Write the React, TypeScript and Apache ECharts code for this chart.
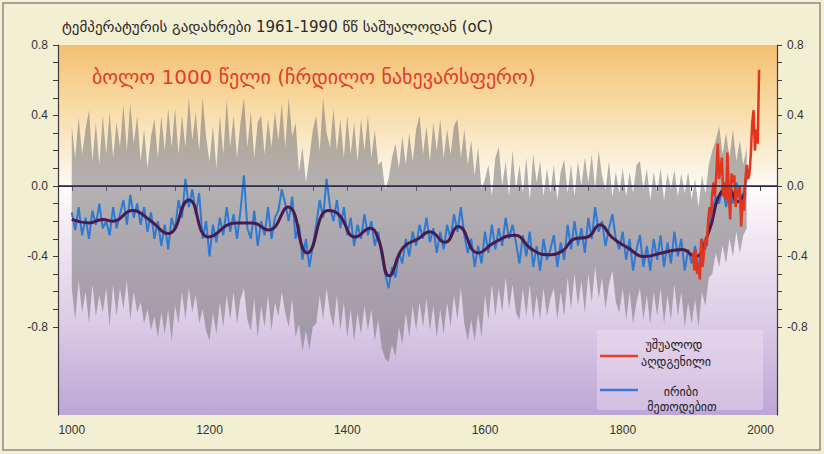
import React, { useEffect, useRef } from "react";
import * as echarts from "echarts";

// Texts
const TITLE = "ტემპერატურის გადახრები 1961-1990 წწ საშუალოდან (oC)";
const SUBTITLE = "ბოლო 1000 წელი (ჩრდილო ნახევარსფერო)";
const LEGEND_DIRECT = ["უშუალოდ", "აღდგენილი"];
const LEGEND_PROXY = ["ირიბი", "მეთოდებით"];

// Axis ticks and labels
const X_LABELS = [1000, 1200, 1400, 1600, 1800, 2000];
const X_TICKS = [
  1000, 1050, 1100, 1150, 1200, 1250, 1300, 1350, 1400, 1450, 1500,
  1550, 1600, 1650, 1700, 1750, 1800, 1850, 1900, 1950, 2000,
];
const Y_LABELS = [-0.8, -0.4, 0, 0.4, 0.8];
const Y_TICKS = [
  -0.8, -0.7, -0.6, -0.5, -0.4, -0.3, -0.2, -0.1, 0,
  0.1, 0.2, 0.3, 0.4, 0.5, 0.6, 0.7, 0.8,
];

// Proxy reconstruction, sampled every 5 years from 1000
const PROXY_START = 1000;
const PROXY_STEP = 5;
const proxyValues = [
  -0.15, -0.25, -0.12, -0.28, -0.18, -0.30, -0.14, -0.22, -0.10, -0.24,
  -0.20, -0.28, -0.12, -0.24, -0.16, -0.08, -0.22, -0.05, -0.18, -0.10,
  -0.22, -0.12, -0.26, -0.15, -0.30, -0.20, -0.34, -0.22, -0.36, -0.18,
  -0.25, -0.08, -0.18, 0.04, -0.12, -0.02, -0.16, -0.04, -0.30, -0.20,
  -0.40, -0.22, -0.32, -0.18, -0.28, -0.12, -0.26, -0.16, -0.30, -0.14,
  0.06, -0.24, -0.30, -0.14, -0.34, -0.20, -0.28, -0.12, -0.30, -0.18,
  -0.14, -0.02, -0.10, -0.20, -0.06, -0.30, -0.22, -0.42, -0.30, -0.46,
  -0.34, -0.22, -0.08, -0.18, 0.04, -0.12, -0.20, -0.08, -0.24, -0.12,
  -0.28, -0.18, -0.34, -0.22, -0.30, -0.16, -0.28, -0.20, -0.34, -0.26,
  -0.40, -0.50, -0.58, -0.46, -0.52, -0.38, -0.44, -0.30, -0.40, -0.26,
  -0.34, -0.22, -0.30, -0.18, -0.32, -0.24, -0.38, -0.26, -0.36, -0.22,
  -0.30, -0.16, -0.26, -0.12, -0.28, -0.38, -0.30, -0.46, -0.34, -0.44,
  -0.26, -0.38, -0.22, -0.36, -0.24, -0.34, -0.18, -0.30, -0.22, -0.32,
  -0.44, -0.28, -0.40, -0.26, -0.46, -0.34, -0.48, -0.30, -0.42, -0.36,
  -0.28, -0.46, -0.32, -0.42, -0.22, -0.36, -0.20, -0.34, -0.24, -0.38,
  -0.18, -0.30, -0.12, -0.26, -0.20, -0.34, -0.24, -0.16, -0.30, -0.36,
  -0.26, -0.42, -0.30, -0.48, -0.36, -0.28, -0.46, -0.34, -0.48, -0.30,
  -0.42, -0.28, -0.46, -0.32, -0.44, -0.26, -0.40, -0.30, -0.48, -0.36,
  -0.44, -0.34, -0.48, -0.30, -0.36, -0.22, -0.14, -0.06, -0.10, 0.00,
  -0.12, -0.02, -0.10, 0.02, -0.08, -0.04, 0.04,
];

// Uncertainty range of the reconstruction (same sampling)
const bandUpper = [
  0.34, 0.16, 0.39, 0.18, 0.32, 0.43, 0.14, 0.36, 0.12, 0.40,
  0.18, 0.42, 0.16, 0.36, 0.22, 0.46, 0.20, 0.47, 0.24, 0.40,
  0.14, 0.32, 0.10, 0.28, 0.38, 0.16, 0.40, 0.20, 0.44, 0.22,
  0.44, 0.18, 0.40, 0.22, 0.50, 0.26, 0.42, 0.20, 0.50, 0.28,
  0.14, 0.34, 0.10, 0.40, 0.18, 0.49, 0.22, 0.40, 0.16, 0.36,
  0.50, 0.22, 0.42, 0.16, 0.36, 0.40, 0.18, 0.38, 0.22, 0.42,
  0.26, 0.47, 0.22, 0.50, 0.28, 0.36, 0.08, 0.22, 0.02, 0.16,
  0.32, 0.40, 0.20, 0.50, 0.30, 0.22, 0.44, 0.20, 0.38, 0.16,
  0.40, 0.18, 0.36, 0.14, 0.38, 0.20, 0.40, 0.16, 0.32, 0.12,
  0.14, -0.02, 0.04, 0.16, 0.24, 0.10, 0.28, 0.12, 0.30, 0.14,
  0.32, 0.40, 0.18, 0.34, 0.14, 0.36, 0.20, 0.38, 0.16, 0.32,
  0.18, 0.34, 0.38, 0.16, 0.32, 0.12, 0.26, 0.06, 0.22, -0.02,
  0.04, 0.12, -0.06, 0.16, 0.22, 0.00, 0.14, -0.06, 0.20, -0.02,
  0.12, -0.04, 0.16, -0.08, 0.18, 0.02, 0.14, -0.06, 0.10, -0.04,
  0.12, -0.08, 0.08, 0.15, -0.04, 0.12, -0.06, 0.14, 0.00, 0.16,
  0.02, 0.18, -0.02, 0.20, 0.06, -0.02, 0.14, -0.06, 0.08, -0.04,
  0.10, -0.06, 0.08, -0.04, 0.12, 0.14, -0.02, 0.10, -0.08, 0.08,
  -0.04, 0.10, -0.08, 0.07, -0.02, 0.09, -0.06, 0.07, -0.04, 0.08,
  -0.08, 0.04, -0.12, 0.06, -0.04, 0.12, 0.20, 0.26, 0.34, 0.18,
  0.30, 0.16, 0.32, 0.14, 0.26, 0.12, 0.22,
];
const bandLower = [
  -0.58, -0.76, -0.54, -0.72, -0.60, -0.78, -0.56, -0.74, -0.62, -0.72,
  -0.58, -0.80, -0.56, -0.74, -0.58, -0.70, -0.54, -0.76, -0.60, -0.72,
  -0.66, -0.78, -0.70, -0.82, -0.74, -0.86, -0.72, -0.84, -0.70, -0.88,
  -0.68, -0.78, -0.60, -0.76, -0.58, -0.72, -0.62, -0.78, -0.70, -0.82,
  -0.88, -0.72, -0.84, -0.66, -0.80, -0.62, -0.76, -0.60, -0.78, -0.64,
  -0.58, -0.76, -0.82, -0.64, -0.86, -0.68, -0.80, -0.62, -0.82, -0.66,
  -0.74, -0.60, -0.72, -0.80, -0.64, -0.86, -0.78, -0.94, -0.82, -0.93,
  -0.80, -0.78, -0.62, -0.76, -0.58, -0.72, -0.80, -0.62, -0.82, -0.66,
  -0.86, -0.70, -0.88, -0.72, -0.84, -0.68, -0.82, -0.70, -0.88, -0.76,
  -0.92, -0.98, -1.00, -0.90, -0.97, -0.80, -0.90, -0.72, -0.86, -0.68,
  -0.82, -0.66, -0.80, -0.64, -0.82, -0.68, -0.86, -0.70, -0.84, -0.66,
  -0.80, -0.62, -0.76, -0.58, -0.78, -0.88, -0.76, -0.88, -0.72, -0.86,
  -0.62, -0.76, -0.56, -0.74, -0.58, -0.72, -0.52, -0.70, -0.56, -0.72,
  -0.76, -0.58, -0.74, -0.56, -0.76, -0.62, -0.76, -0.58, -0.74, -0.64,
  -0.58, -0.76, -0.60, -0.74, -0.52, -0.70, -0.50, -0.68, -0.54, -0.72,
  -0.50, -0.66, -0.46, -0.64, -0.52, -0.70, -0.56, -0.48, -0.66, -0.72,
  -0.58, -0.76, -0.60, -0.78, -0.66, -0.58, -0.76, -0.62, -0.78, -0.60,
  -0.74, -0.58, -0.78, -0.62, -0.76, -0.56, -0.74, -0.60, -0.80, -0.66,
  -0.78, -0.64, -0.80, -0.60, -0.68, -0.52, -0.50, -0.38, -0.46, -0.34,
  -0.44, -0.30, -0.40, -0.26, -0.38, -0.28, -0.24,
];

// Smoothed curve (anchor years and values)
const smoothYears = [
  1000, 1025, 1045, 1060, 1088, 1112, 1140, 1170, 1199, 1238, 1262, 1286,
  1314, 1342, 1372, 1387, 1412, 1433, 1445, 1461, 1481, 1503, 1520, 1542,
  1561, 1590, 1614, 1643, 1668, 1691, 1712, 1730, 1749, 1767, 1784, 1807,
  1832, 1857, 1886, 1905, 1925, 1942, 1955, 1966, 1978,
];
const smoothValues = [
  -0.19, -0.21, -0.19, -0.20, -0.14, -0.19, -0.27, -0.08, -0.29, -0.21, -0.21, -0.25,
  -0.12, -0.38, -0.14, -0.16, -0.29, -0.24, -0.30, -0.51, -0.35, -0.30, -0.26, -0.32,
  -0.23, -0.38, -0.32, -0.28, -0.36, -0.39, -0.37, -0.30, -0.29, -0.22, -0.29, -0.35,
  -0.40, -0.38, -0.36, -0.40, -0.26, -0.04, -0.02, -0.09, -0.04,
];

// Thermometer record, every 2 years from 1902
const INSTR_START = 1902;
const INSTR_STEP = 2;
const instrumentalValues = [
  -0.38, -0.48, -0.36, -0.50, -0.44, -0.53, -0.30, -0.46, -0.38, -0.30,
  -0.34, -0.20, -0.12, -0.18, -0.04, 0.02, -0.06, 0.08, 0.24, 0.04,
  0.10, 0.16, -0.06, 0.02, -0.08, 0.19, -0.04, -0.19, 0.07, 0.02,
  0.06, -0.12, -0.02, -0.06, 0.00, -0.23, -0.08, -0.14, 0.03, 0.12,
  0.04, 0.07, 0.18, 0.36, 0.43, 0.20, 0.32, 0.24, 0.66,
];

const FONT_AXIS = "'Liberation Sans Narrow', 'Liberation Sans', Arial, sans-serif";
const FONT_GEO = "'DejaVu Sans', sans-serif";

export default function App() {
  const ref = useRef<HTMLDivElement>(null);

  useEffect(() => {
    if (!ref.current) return;
    const chart = echarts.init(ref.current, undefined, { renderer: "svg" });

    const proxy = proxyValues.map((v, i) => [PROXY_START + i * PROXY_STEP, v]);
    const instrumental = instrumentalValues.map((v, i) => [INSTR_START + i * INSTR_STEP, v]);
    const smooth = smoothValues.map((v, i) => [smoothYears[i], v]);
    const bandYears = bandUpper.map((_, i) => PROXY_START + i * PROXY_STEP);

    const yAxisBase = {
      type: "value",
      min: -1.3,
      max: 0.8,
      splitLine: { show: false },
      axisLine: { show: true, lineStyle: { color: "#3d3a40", width: 1.2 } },
      axisTick: {
        show: true,
        length: 5,
        customValues: Y_TICKS,
        lineStyle: { color: "#3d3a40" },
      },
      axisLabel: {
        customValues: Y_LABELS,
        formatter: (v: number) => v.toFixed(1),
        color: "#333",
        fontSize: 12,
        fontFamily: FONT_AXIS,
        margin: 10,
      },
    };

    chart.setOption({
      animation: false,
      backgroundColor: "#f3efd2",
      grid: {
        left: 58,
        right: 47,
        top: 45,
        bottom: 39,
        show: true,
        borderWidth: 0,
        backgroundColor: new echarts.graphic.LinearGradient(0, 0, 0, 1, [
          { offset: 0, color: "#f5c073" },
          { offset: 0.14, color: "#f8d79c" },
          { offset: 0.3, color: "#fbeed6" },
          { offset: 0.39, color: "#fdfbf8" },
          { offset: 0.5, color: "#f3eaf3" },
          { offset: 0.75, color: "#dccbe6" },
          { offset: 1, color: "#bda6d6" },
        ]),
      },
      xAxis: {
        type: "value",
        min: 980,
        max: 2024,
        splitLine: { show: false },
        axisLine: { show: true, lineStyle: { color: "#3d3a40", width: 1.2 } },
        axisTick: {
          show: true,
          length: 5,
          customValues: X_TICKS,
          lineStyle: { color: "#3d3a40" },
        },
        axisLabel: {
          customValues: X_LABELS,
          formatter: (v: number) => String(v),
          color: "#333",
          fontSize: 12,
          fontFamily: FONT_AXIS,
          margin: 9,
        },
      },
      yAxis: [
        { ...yAxisBase, position: "left" },
        { ...yAxisBase, position: "right" },
      ],
      series: [
        {
          type: "custom",
          name: "band",
          silent: true,
          clip: true,
          data: [[1000, 0]],
          encode: { x: 0, y: 1 },
          renderItem: (_params: any, api: any) => {
            const top = bandYears.map((yr, i) => api.coord([yr, bandUpper[i]]));
            const bottom = bandYears
              .map((yr, i) => api.coord([yr, bandLower[i]]))
              .reverse();
            return {
              type: "polygon",
              shape: { points: top.concat(bottom) },
              style: { fill: "rgba(118,116,120,0.55)" },
            };
          },
          z: 1,
        },
        {
          type: "line",
          name: "proxy",
          data: proxy,
          showSymbol: false,
          silent: true,
          lineStyle: { color: "#2e7ad2", width: 2 },
          z: 2,
          markLine: {
            silent: true,
            symbol: "none",
            label: { show: false },
            lineStyle: { color: "#27214a", width: 1.6, type: "solid" },
            data: [{ yAxis: 0 }],
          },
        },
        {
          type: "line",
          name: "smooth",
          data: smooth,
          smooth: 0.5,
          showSymbol: false,
          silent: true,
          lineStyle: { color: "#4b1a4c", width: 3 },
          z: 3,
        },
        {
          type: "line",
          name: "instrumental",
          data: instrumental,
          showSymbol: false,
          silent: true,
          lineStyle: { color: "#e2351d", width: 2.5 },
          z: 4,
        },
      ],
      graphic: [
        {
          type: "rect",
          shape: { x: 3, y: 3, width: 817, height: 447 },
          style: { fill: "none", stroke: "#8d8a80", lineWidth: 1.5 },
          silent: true,
        },
        {
          type: "text",
          x: 62,
          y: 27,
          style: {
            text: TITLE,
            fill: "#2f2626",
            font: `15px ${FONT_GEO}`,
            verticalAlign: "middle",
          },
        },
        {
          type: "text",
          x: 92,
          y: 77,
          style: {
            text: SUBTITLE,
            fill: "#e23d28",
            font: `20px ${FONT_GEO}`,
            verticalAlign: "middle",
          },
        },
        {
          type: "rect",
          shape: { x: 597, y: 330, width: 166, height: 80 },
          style: { fill: "rgba(250,236,246,0.35)" },
          silent: true,
        },
        {
          type: "line",
          shape: { x1: 600, y1: 356, x2: 638, y2: 356 },
          style: { stroke: "#e2402c", lineWidth: 2.5 },
        },
        {
          type: "line",
          shape: { x1: 600, y1: 390, x2: 638, y2: 390 },
          style: { stroke: "#3a78d6", lineWidth: 2.5 },
        },
        {
          type: "text",
          x: 674,
          y: 345,
          style: { text: LEGEND_DIRECT[0], fill: "#222", font: `12px ${FONT_GEO}`, align: "center", verticalAlign: "middle" },
        },
        {
          type: "text",
          x: 676,
          y: 362,
          style: { text: LEGEND_DIRECT[1], fill: "#222", font: `12px ${FONT_GEO}`, align: "center", verticalAlign: "middle" },
        },
        {
          type: "text",
          x: 681,
          y: 392,
          style: { text: LEGEND_PROXY[0], fill: "#222", font: `12px ${FONT_GEO}`, align: "center", verticalAlign: "middle" },
        },
        {
          type: "text",
          x: 682,
          y: 407,
          style: { text: LEGEND_PROXY[1], fill: "#222", font: `12px ${FONT_GEO}`, align: "center", verticalAlign: "middle" },
        },
      ],
    });

    return () => chart.dispose();
  }, []);

  return (
    <div
      ref={ref}
      style={{ position: "fixed", left: 0, top: 0, width: 824, height: 454 }}
    />
  );
}
